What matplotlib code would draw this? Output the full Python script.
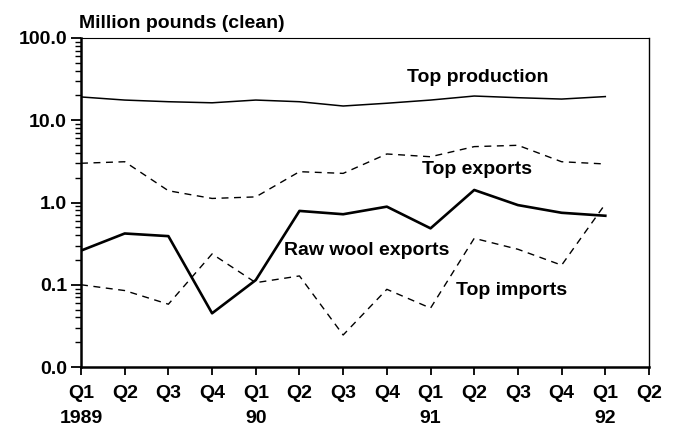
import matplotlib
matplotlib.use('Agg')
import matplotlib.pyplot as plt
from matplotlib.ticker import FixedLocator, FormatStrFormatter, LogLocator, NullFormatter
import matplotlib.transforms as mtransforms

plt.rcParams['font.family'] = ['Liberation Sans', 'DejaVu Sans']
plt.rcParams['font.weight'] = 'bold'

# Quarters Q1 1989 .. Q1 1992, axis runs to Q2 1992
quarters = ['Q1', 'Q2', 'Q3', 'Q4', 'Q1', 'Q2', 'Q3', 'Q4', 'Q1', 'Q2', 'Q3', 'Q4', 'Q1', 'Q2']
years = {0: '1989', 4: '90', 8: '91', 12: '92'}

top_production = [19.2, 17.6, 16.8, 16.3, 17.6, 16.8, 14.9, 16.1, 17.6, 19.7, 18.8, 18.1, 19.4]
top_exports = [3.0, 3.13, 1.39, 1.12, 1.17, 2.37, 2.26, 3.89, 3.6, 4.78, 4.96, 3.13, 2.94]
raw_wool_exports = [0.26, 0.42, 0.39, 0.045, 0.114, 0.79, 0.72, 0.89, 0.485, 1.42, 0.93, 0.75, 0.69]
top_imports = [0.1, 0.085, 0.058, 0.237, 0.106, 0.128, 0.0245, 0.088, 0.052, 0.367, 0.27, 0.173, 0.96]

x = list(range(len(top_production)))

fig = plt.figure(figsize=(6.76, 4.29), dpi=100)
ax = fig.add_axes([81 / 676, 1 - 367 / 429, (649 - 81) / 676, (367 - 38) / 429])

dash = (0, (5, 4))
ax.plot(x, top_production, color='black', linewidth=1.1)
ax.plot(x, top_exports, color='black', linewidth=1.0, linestyle=dash)
ax.plot(x, raw_wool_exports, color='black', linewidth=1.9)
ax.plot(x, top_imports, color='black', linewidth=1.0, linestyle=dash)

ax.set_yscale('log')
ax.set_ylim(0.01, 100)
ax.set_xlim(0, 13)
ax.yaxis.set_major_locator(FixedLocator([0.01, 0.1, 1, 10, 100]))
ax.yaxis.set_major_formatter(FormatStrFormatter('%.1f'))
ax.yaxis.set_minor_locator(LogLocator(base=10, subs=range(2, 10)))
ax.yaxis.set_minor_formatter(NullFormatter())
ax.set_xticks(range(14))
ax.set_xticklabels(quarters)

ax.tick_params(axis='y', which='major', length=7, width=1.3, labelsize=14, pad=3)
ax.tick_params(axis='y', which='minor', length=4, width=1.0)
ax.tick_params(axis='x', length=6, width=1.3, labelsize=14, pad=7)
for lab in ax.get_xticklabels() + ax.get_yticklabels():
    lab.set_fontweight('bold')

ax.spines['left'].set_linewidth(1.8)
ax.spines['bottom'].set_linewidth(1.8)
ax.spines['top'].set_linewidth(0.8)
ax.spines['right'].set_linewidth(1.0)

trans = mtransforms.blended_transform_factory(ax.transData, ax.transAxes)
for i, yr in years.items():
    ax.text(i, -0.158, yr, transform=trans, ha='center', va='center',
            fontsize=14, fontweight='bold')

ax.text(-0.003, 1.045, 'Million pounds (clean)', transform=ax.transAxes,
        ha='left', va='center', fontsize=14, fontweight='bold')

lab_kw = dict(ha='center', va='center', fontsize=14, fontweight='bold')
ax.text(9.07, 32.7, 'Top production', **lab_kw)
ax.text(9.07, 2.55, 'Top exports', **lab_kw)
ax.text(6.53, 0.26, 'Raw wool exports', **lab_kw)
ax.text(9.86, 0.086, 'Top imports', **lab_kw)

fig.savefig('out.png', dpi=100)
